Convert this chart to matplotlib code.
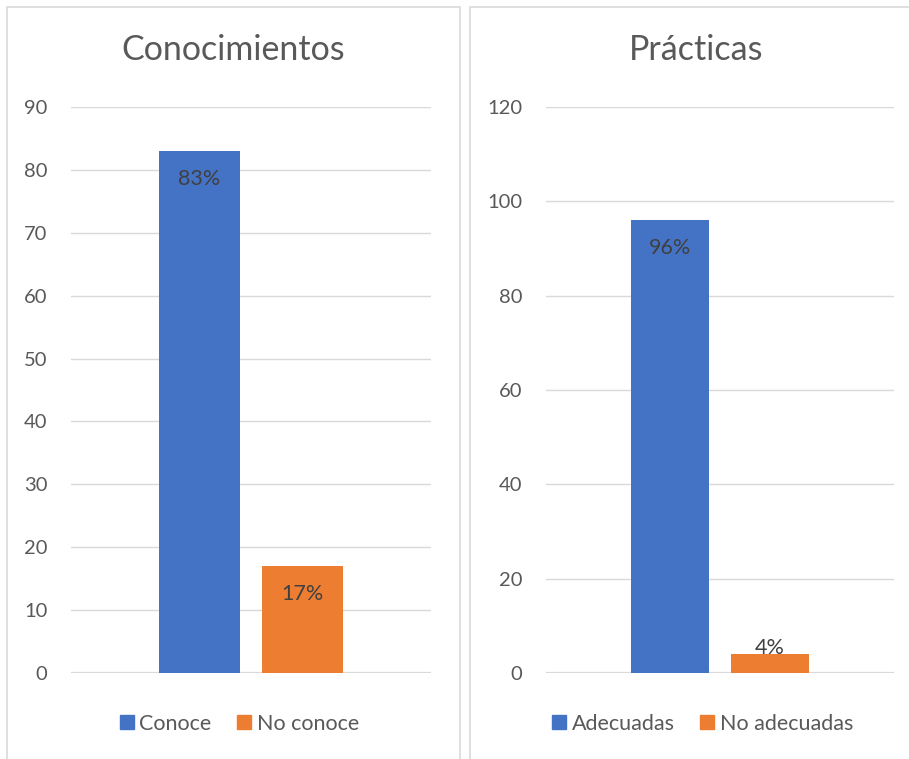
import matplotlib
matplotlib.use("Agg")
import matplotlib.pyplot as plt
from matplotlib.lines import Line2D
from matplotlib.patches import Rectangle

plt.rcParams['font.family'] = ['Lato', 'DejaVu Sans']

# Data
conoc_title = "Conocimientos"
conoc_series = ["Conoce", "No conoce"]
conoc_values = [83, 17]
conoc_ticks = [0, 10, 20, 30, 40, 50, 60, 70, 80, 90]

pract_title = "Prácticas"
pract_series = ["Adecuadas", "No adecuadas"]
pract_values = [96, 4]
pract_ticks = [0, 20, 40, 60, 80, 100, 120]

colors = ["#4472C4", "#ED7D31"]
TEXT = "#595959"
LABEL = "#404040"
GRID = "#D9D9D9"

W, H = 909, 759
fig = plt.figure(figsize=(W / 100, H / 100), dpi=100)


def px_axes(x0, x1, ytop, ybot):
    return fig.add_axes([x0 / W, (H - ybot) / H, (x1 - x0) / W, (ybot - ytop) / H])


def panel_border(x0, x1, y0, y1):
    fig.patches.append(Rectangle((x0 / W, (H - y1) / H), (x1 - x0) / W, (y1 - y0) / H,
                                 transform=fig.transFigure, fill=False,
                                 edgecolor=GRID, linewidth=1.2, zorder=0))


def draw_panel(ax, title, series, values, ticks, title_x, legend_x):
    bar_w = 0.226
    gap = 0.061
    offsets = [-(bar_w + gap) / 2, (bar_w + gap) / 2]
    ymax = ticks[-1]
    for off, v, c, name in zip(offsets, values, colors, series):
        ax.bar(off, v, width=bar_w, color=c, zorder=3, label=name)
        # labels inside the bar end, pushed above when the bar is too short
        if v / ymax > 0.08:
            ax.annotate(f"{v}%", (off, v), xytext=(0, -20), textcoords="offset points",
                        ha="center", va="center", fontsize=15.5, color=LABEL, zorder=4)
        else:
            ax.annotate(f"{v}%", (off, v), xytext=(0, 4.5), textcoords="offset points",
                        ha="center", va="center", fontsize=15.5, color=LABEL, zorder=4)
    ax.set_xlim(-0.5, 0.5)
    ax.set_ylim(0, ymax)
    ax.set_yticks(ticks)
    ax.set_yticklabels([str(t) for t in ticks])
    ax.set_xticks([])
    for s in ax.spines.values():
        s.set_visible(False)
    ax.grid(axis="y", color=GRID, linewidth=1.0, zorder=0)
    ax.axhline(0, color=GRID, linewidth=1.6, zorder=2)
    ax.tick_params(axis="y", length=0, pad=17, labelsize=14.5, labelcolor=TEXT)
    ax.set_facecolor("none")

    fig.text(title_x / W, (H - 50) / H, title, ha="center", va="center",
             fontsize=24.5, color=TEXT)
    handles = [Line2D([], [], marker="s", linestyle="none", markersize=10,
                      markerfacecolor=c, markeredgecolor=c) for c in colors]
    fig.legend(handles, series, loc="center", bbox_to_anchor=(legend_x / W, (H - 724) / H),
               ncol=2, frameon=False, fontsize=15.5, labelcolor=TEXT,
               handletextpad=0.1, columnspacing=1.0, handlelength=1.0)


panel_border(7, 460, 7, 800)
panel_border(470, 923, 7, 800)

ax1 = px_axes(71, 431, 107, 673)
draw_panel(ax1, conoc_title, conoc_series, conoc_values, conoc_ticks, 233.5, 237.5)

ax2 = px_axes(546, 894, 107, 673)
draw_panel(ax2, pract_title, pract_series, pract_values, pract_ticks, 696.5, 701)

fig.savefig("out.png", dpi=100, facecolor="white")
